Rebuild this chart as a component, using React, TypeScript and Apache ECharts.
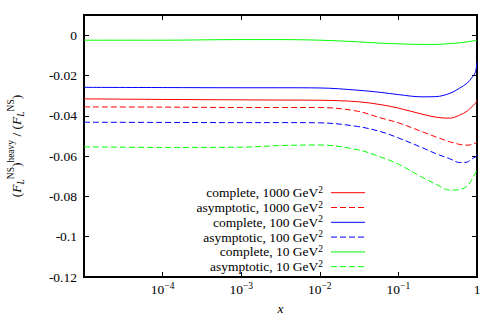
import React, { useEffect, useRef } from "react";
import * as echarts from "echarts";

// x sample points (log axis)
const X = [1e-5, 1e-4, 1e-3, 3e-3, 1e-2, 0.03, 0.06, 0.1, 0.2, 0.3, 0.45, 0.6, 0.75, 0.85, 0.95, 1];

const complete1000 = [-0.0316, -0.0319, -0.0321, -0.0322, -0.0323, -0.0330, -0.0345, -0.0362, -0.0392, -0.0407, -0.0412, -0.0397, -0.0377, -0.0357, -0.0339, -0.0323];
const asymptotic1000 = [-0.0356, -0.0357, -0.0359, -0.0359, -0.0359, -0.0377, -0.0411, -0.0435, -0.0479, -0.0505, -0.0529, -0.0542, -0.0546, -0.0543, -0.0536, -0.0530];
const complete100 = [-0.0259, -0.0260, -0.0261, -0.0261, -0.0262, -0.0273, -0.0284, -0.0295, -0.0306, -0.0305, -0.0289, -0.0263, -0.0238, -0.0213, -0.0186, -0.0135];
const asymptotic100 = [-0.0432, -0.0433, -0.0434, -0.0434, -0.0435, -0.0453, -0.0479, -0.0510, -0.0558, -0.0588, -0.0613, -0.0632, -0.0630, -0.0615, -0.0605, -0.0596];
const complete10 = [-0.0025, -0.0025, -0.0022, -0.0022, -0.0025, -0.0033, -0.0040, -0.0043, -0.0046, -0.0046, -0.0042, -0.0038, -0.0033, -0.0030, -0.0027, -0.0025];
const asymptotic10 = [-0.0554, -0.0557, -0.0556, -0.0548, -0.0545, -0.0568, -0.0605, -0.0640, -0.0705, -0.0739, -0.0769, -0.0767, -0.0749, -0.0720, -0.0686, -0.0670];

const SERIES_NAMES = [
  "complete, 1000 GeV",
  "asymptotic, 1000 GeV",
  "complete, 100 GeV",
  "asymptotic, 100 GeV",
  "complete, 10 GeV",
  "asymptotic, 10 GeV",
];
const SERIES_VALUES = [complete1000, asymptotic1000, complete100, asymptotic100, complete10, asymptotic10];
const SERIES_COLORS = ["#ff0000", "#ff0000", "#0000ff", "#0000ff", "#00ff00", "#00ff00"];
const SERIES_DASHED = [false, true, false, true, false, true];

const Y_MIN = -0.12;
const Y_MAX = 0.01;
const Y_STEP = 0.02;
const X_MIN = 1e-5;
const X_MAX = 1;

const FONT = "'Liberation Serif', 'DejaVu Serif', serif";
const FS = 13.5;
const FS_SUP = 9.5;
const DASH = [6, 3];

export default function App() {
  const ref = useRef<HTMLDivElement>(null);

  useEffect(() => {
    if (!ref.current) return;
    const chart = echarts.init(ref.current, undefined, { renderer: "svg" });

    const gridLeft = 84, gridRight = 19, gridTop = 15, gridBottom = 42;

    const supRich = {
      b: { fontFamily: FONT, fontSize: FS, color: "#000", lineHeight: 16 },
      s: { fontFamily: FONT, fontSize: FS_SUP, color: "#000", verticalAlign: "top", lineHeight: 10 },
    };

    const series = SERIES_NAMES.map((name, i) => ({
      name: name + "²",
      type: "line",
      xAxisIndex: 0,
      yAxisIndex: 0,
      data: X.map((x, k) => [x, SERIES_VALUES[i][k]]),
      symbol: "none",
      smooth: 0.35,
      clip: true,
      lineStyle: {
        color: SERIES_COLORS[i],
        width: 1,
        type: SERIES_DASHED[i] ? DASH : "solid",
      },
      itemStyle: { color: SERIES_COLORS[i] },
      z: 2,
    }));

    // legend drawn gnuplot-style
    const rowY0 = 192.7, rowStep = 14.8;
    const textRight = 323, lineX1 = 331, lineX2 = 365;
    const legendEls: any[] = [];
    SERIES_NAMES.forEach((name, i) => {
      const y = rowY0 + i * rowStep;
      legendEls.push({
        type: "text",
        z: 10,
        style: {
          text: "{b|" + name + "}{s|2}",
          x: textRight,
          y: y,
          align: "right",
          verticalAlign: "middle",
          fontFamily: FONT,
          fontSize: FS,
          fill: "#000",
          rich: supRich,
        },
      });
      legendEls.push({
        type: "line",
        z: 10,
        shape: { x1: lineX1, y1: y, x2: lineX2, y2: y },
        style: {
          stroke: SERIES_COLORS[i],
          lineWidth: 1,
          lineDash: SERIES_DASHED[i] ? DASH : null,
        },
      });
    });

    const xLabel = (v: number) => {
      if (v < 1.5e-5) return "";
      const e = Math.round(Math.log10(v));
      if (e === 0) return "{b|1}";
      return "{b|10}{s|−" + Math.abs(e) + "}";
    };
    const yLabel = (v: number) => {
      if (v > 0.005) return "";
      const r = parseFloat(v.toFixed(2));
      return r === 0 ? "0" : String(r);
    };

    const axisLine = { show: true, onZero: false, lineStyle: { color: "#000", width: 2 } };
    const axisTick = { show: true, inside: true, length: 5, lineStyle: { color: "#000", width: 1 } };

    const option: any = {
      animation: false,
      backgroundColor: "#ffffff",
      grid: {
        left: gridLeft,
        right: gridRight,
        top: gridTop,
        bottom: gridBottom,
        containLabel: false,
        outerBoundsMode: "none",
        show: true,
        borderColor: "#000",
        borderWidth: 2,
        backgroundColor: "transparent",
      },
      xAxis: [
        {
          type: "log",
          logBase: 10,
          min: X_MIN,
          max: X_MAX,
          splitNumber: 5,
          position: "bottom",
          axisLine,
          axisTick,
          minorTick: { show: false },
          splitLine: { show: false },
          axisLabel: {
            formatter: xLabel,
            margin: 4,
            fontFamily: FONT,
            fontSize: FS,
            color: "#000",
            rich: supRich,
          },
          name: "x",
          nameLocation: "middle",
          nameGap: 24,
          nameTextStyle: { fontFamily: FONT, fontSize: FS, fontStyle: "italic", color: "#000" },
        },
        {
          type: "log",
          logBase: 10,
          min: X_MIN,
          max: X_MAX,
          splitNumber: 5,
          position: "top",
          axisLine,
          axisTick,
          splitLine: { show: false },
          axisLabel: { show: false },
        },
      ],
      yAxis: [
        {
          type: "value",
          min: Y_MIN,
          max: Y_MAX,
          interval: Y_STEP,
          position: "left",
          axisLine,
          axisTick,
          splitLine: { show: false },
          axisLabel: {
            formatter: yLabel,
            margin: 7,
            fontFamily: FONT,
            fontSize: FS,
            color: "#000",
          },
          name: "{p|(}{i|F}{sub|L}{sup|NS}{p|)}{sup|heavy}{p| / (}{i|F}{sub|L}{sup|NS}{p|)}",
          nameLocation: "middle",
          nameRotate: 90,
          nameGap: 58,
          nameTextStyle: {
            fontFamily: FONT,
            fontSize: FS,
            color: "#000",
            rich: {
              p: { fontFamily: FONT, fontSize: FS, color: "#000", lineHeight: 20 },
              i: { fontFamily: FONT, fontSize: FS, fontStyle: "italic", color: "#000", lineHeight: 20 },
              sup: { fontFamily: FONT, fontSize: FS_SUP, color: "#000", verticalAlign: "top", lineHeight: 11 },
              sub: { fontFamily: FONT, fontSize: FS_SUP, fontStyle: "italic", color: "#000", verticalAlign: "bottom", lineHeight: 11 },
            },
          },
        },
        {
          type: "value",
          min: Y_MIN,
          max: Y_MAX,
          interval: Y_STEP,
          position: "right",
          axisLine,
          axisTick,
          splitLine: { show: false },
          axisLabel: { show: false },
        },
      ],
      series,
      graphic: legendEls,
    };

    chart.setOption(option);
    return () => chart.dispose();
  }, []);

  return (
    <div
      ref={ref}
      style={{ position: "fixed", left: 0, top: 0, width: 496, height: 319, background: "#fff" }}
    />
  );
}
